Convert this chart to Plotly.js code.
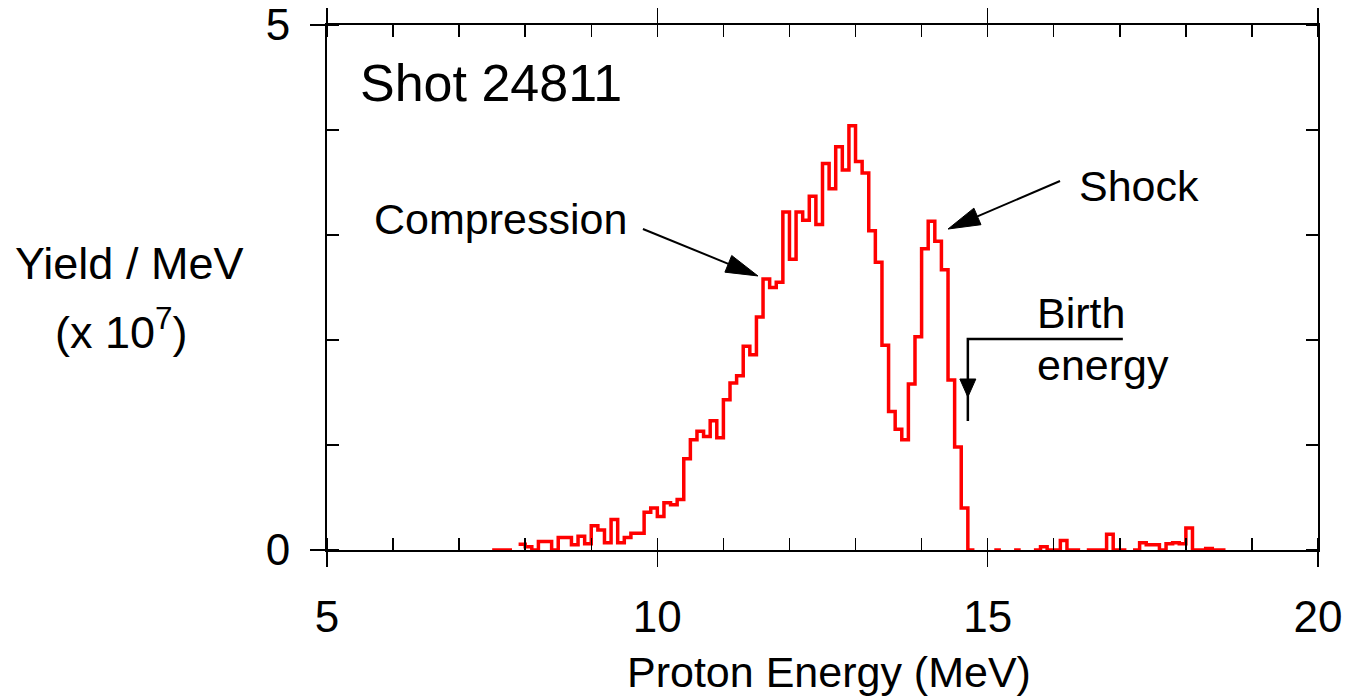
<!DOCTYPE html>
<html>
<head>
<meta charset="utf-8">
<script src="https://cdn.plot.ly/plotly-3.0.1.min.js"></script>
<style>
  html, body { margin: 0; padding: 0; background: #ffffff; }
  #chart { width: 1345px; height: 696px; }
</style>
</head>
<body>
<div id="chart"></div>
<script>
// ---- data ----
// left edge of each 0.1 MeV energy bin
const energy = [
  7.5, 7.6, 7.7, 7.8, 7.9,
  8.0, 8.1, 8.2, 8.3, 8.4, 8.5, 8.6, 8.7, 8.8, 8.9,
  9.0, 9.1, 9.2, 9.3, 9.4, 9.5, 9.6, 9.7, 9.8, 9.9,
  10.0, 10.1, 10.2, 10.3, 10.4, 10.5, 10.6, 10.7, 10.8, 10.9,
  11.0, 11.1, 11.2, 11.3, 11.4, 11.5, 11.6, 11.7, 11.8, 11.9,
  12.0, 12.1, 12.2, 12.3, 12.4, 12.5, 12.6, 12.7, 12.8, 12.9,
  13.0, 13.1, 13.2, 13.3, 13.4, 13.5, 13.6, 13.7, 13.8, 13.9,
  14.0, 14.1, 14.2, 14.3, 14.4, 14.5, 14.6, 14.7, 14.8, 14.9,
  15.0, 15.1, 15.2, 15.3, 15.4, 15.5, 15.6, 15.7, 15.8, 15.9,
  16.0, 16.1, 16.2, 16.3, 16.4, 16.5, 16.6, 16.7, 16.8, 16.9,
  17.0, 17.1, 17.2, 17.3, 17.4, 17.5, 17.6, 17.7, 17.8, 17.9,
  18.0, 18.1, 18.2, 18.3, 18.4, 18.5
];
const binWidth = 0.1;
// yield per MeV in units of 1e7 (null = empty / below-zero bin, not drawn)
const yieldPerMeV = [
  0, 0, 0, null, 0.054,
  0.03, 0, 0.08, 0.08, 0, 0.12, 0.12, 0.05, 0.13, 0.06,
  0.23, 0.19, 0.07, 0.29, 0.07, 0.12, 0.16, 0.16, 0.36, 0.40,
  0.32, 0.45, 0.43, 0.48, 0.87, 1.05, 1.13, 1.08, 1.23, 1.07,
  1.43, 1.59, 1.66, 1.94, 1.86, 2.22, 2.58, 2.50, 2.55, 3.22,
  2.77, 3.22, 3.14, 3.37, 3.10, 3.68, 3.44, 3.84, 3.62, 4.04,
  3.70, 3.59, 3.04, 2.74, 1.95, 1.32, 1.15, 1.05, 1.58, 2.03,
  2.87, 3.13, 2.94, 2.67, 1.62, 0.98, 0.40, 0, null, null,
  null, 0, null, null, 0, null, null, 0, 0.03, 0,
  0, 0.09, 0, 0, null, 0, 0, 0, 0.15, 0,
  0, null, 0, 0.07, 0.05, 0.05, 0, 0.06, 0.07, 0.06,
  0.21, 0, 0, 0.015, 0, 0
];
const xTickLabels = ['5', '10', '15', '20'];
const yTickLabels = ['0', '5'];
const shotLabel = 'Shot 24811';
const birthEnergy = 14.7;

// ---- step outline built from the bins ----
const stepX = [], stepY = [];
energy.forEach((e, i) => {
  const v = yieldPerMeV[i];
  if (v === null) { stepX.push(e); stepY.push(null); return; }
  stepX.push(e, +(e + binWidth).toFixed(3));
  stepY.push(v, v);
});

const FONT = 'Liberation Sans, Arial, Helvetica, sans-serif';

// ---- arrow helpers (pixel offsets relative to an anchor in data coords) ----
function arrowShapes(tipX, tipY, tailDx, tailDy, headLen, headHalf) {
  const len = Math.hypot(tailDx, tailDy);
  const ux = -tailDx / len, uy = -tailDy / len;
  const bx = -ux * headLen, by = -uy * headLen;
  const nx = -uy, ny = ux;
  const P = (x, y) => x.toFixed(2) + ',' + (-y).toFixed(2);
  const common = { type: 'path', xref: 'x', yref: 'y', xsizemode: 'pixel', ysizemode: 'pixel',
                   xanchor: tipX, yanchor: tipY, layer: 'above' };
  return [
    Object.assign({}, common, { path: 'M' + P(tailDx, tailDy) + 'L' + P(bx, by),
                               line: { color: '#000', width: 2 } }),
    Object.assign({}, common, { path: 'M0,0L' + P(bx + nx * headHalf, by + ny * headHalf) + 'L' +
                               P(bx - nx * headHalf, by - ny * headHalf) + 'Z',
                               fillcolor: '#000', line: { color: '#000', width: 1 } })
  ];
}

const shapes = []
  .concat(arrowShapes(11.523, 2.61, -115, -47, 32, 9))   // Compression
  .concat(arrowShapes(14.40, 3.057, 112, -48, 32, 9));   // Shock

// Birth energy bracket
shapes.push({ type: 'path', xref: 'x', yref: 'y', xsizemode: 'pixel', ysizemode: 'pixel',
  xanchor: birthEnergy, yanchor: 2.0095, layer: 'above',
  path: 'M155,0L0,0L0,-82', line: { color: '#000', width: 2.5 } });
shapes.push({ type: 'path', xref: 'x', yref: 'y', xsizemode: 'pixel', ysizemode: 'pixel',
  xanchor: birthEnergy, yanchor: 2.0095, layer: 'above',
  path: 'M-8,-40L8,-40L0,-58Z', fillcolor: '#000', line: { color: '#000', width: 1 } });

const annotations = [
  { text: shotLabel, xref: 'paper', yref: 'paper', x: 0.031, y: 0.8895, xanchor: 'left', yanchor: 'middle',
    showarrow: false, font: { family: FONT, size: 52, color: '#000' } },
  { text: 'Compression', xref: 'paper', yref: 'paper', x: 0.0454, y: 0.6305, xanchor: 'left', yanchor: 'middle',
    showarrow: false, font: { family: FONT, size: 43, color: '#000' } },
  { text: 'Shock', xref: 'paper', yref: 'paper', x: 0.7568, y: 0.6933, xanchor: 'left', yanchor: 'middle',
    showarrow: false, font: { family: FONT, size: 43, color: '#000' } },
  { text: 'Birth', xref: 'paper', yref: 'paper', x: 0.7144, y: 0.4514, xanchor: 'left', yanchor: 'middle',
    showarrow: false, font: { family: FONT, size: 43, color: '#000' } },
  { text: 'energy', xref: 'paper', yref: 'paper', x: 0.7144, y: 0.3524, xanchor: 'left', yanchor: 'middle',
    showarrow: false, font: { family: FONT, size: 43, color: '#000' } },
  { text: 'Yield / MeV', xref: 'paper', yref: 'paper', x: -0.1998, y: 0.5448, xanchor: 'center', yanchor: 'middle',
    showarrow: false, font: { family: FONT, size: 45, color: '#000' } },
  { text: '(x 10<sup>7</sup>)', xref: 'paper', yref: 'paper', x: -0.207, y: 0.421, xanchor: 'center', yanchor: 'middle',
    showarrow: false, font: { family: FONT, size: 45, color: '#000' } },
  { text: 'Proton Energy (MeV)', xref: 'paper', yref: 'paper', x: 0.5066, y: -0.2324, xanchor: 'center', yanchor: 'middle',
    showarrow: false, font: { family: FONT, size: 43, color: '#000' } }
];

const trace = {
  type: 'scatter', mode: 'lines', x: stepX, y: stepY,
  line: { color: '#ff0000', width: 3.5 }, connectgaps: false, hoverinfo: 'skip', showlegend: false
};
// empty trace only to bring up the right-hand axis (inward ticks only)
const rightAxisTrace = { type: 'scatter', mode: 'lines', x: [null], y: [null], yaxis: 'y2',
  hoverinfo: 'skip', showlegend: false };

const axisCommon = {
  showgrid: false, zeroline: false, showline: true, linecolor: '#000', linewidth: 2,
  ticks: 'outside', ticklen: 15, tickwidth: 1.5, tickcolor: '#000',
  tickfont: { family: FONT, size: 44, color: '#000' }, fixedrange: true
};
const minorCommon = { tickmode: 'linear', dtick: 1, ticks: 'inside', ticklen: 12, tickwidth: 1.5,
  tickcolor: '#000', showgrid: false };

const layout = {
  width: 1345, height: 696,
  margin: { l: 327, r: 27, t: 25, b: 146, pad: 0 },
  paper_bgcolor: '#ffffff', plot_bgcolor: '#ffffff',
  showlegend: false,
  xaxis: Object.assign({}, axisCommon, {
    range: [5, 20], tickmode: 'array', tickvals: [5, 10, 15, 20], ticktext: xTickLabels,
    mirror: 'ticks', ticklabelstandoff: 12,
    minor: Object.assign({}, minorCommon, { tick0: 5 })
  }),
  yaxis: Object.assign({}, axisCommon, {
    range: [0, 5], tickmode: 'array', tickvals: [0, 5], ticktext: yTickLabels,
    mirror: true, ticklabelstandoff: 11,
    minor: Object.assign({}, minorCommon, { tick0: 0 })
  }),
  yaxis2: {
    overlaying: 'y', side: 'right', anchor: 'x', range: [0, 5], fixedrange: true,
    tickmode: 'array', tickvals: [0, 5], ticks: '', showticklabels: false,
    showgrid: false, zeroline: false, showline: false,
    minor: Object.assign({}, minorCommon, { tick0: 0 })
  },
  shapes: shapes,
  annotations: annotations
};

Plotly.newPlot('chart', [trace, rightAxisTrace], layout, { staticPlot: true, displayModeBar: false });
</script>
</body>
</html>
